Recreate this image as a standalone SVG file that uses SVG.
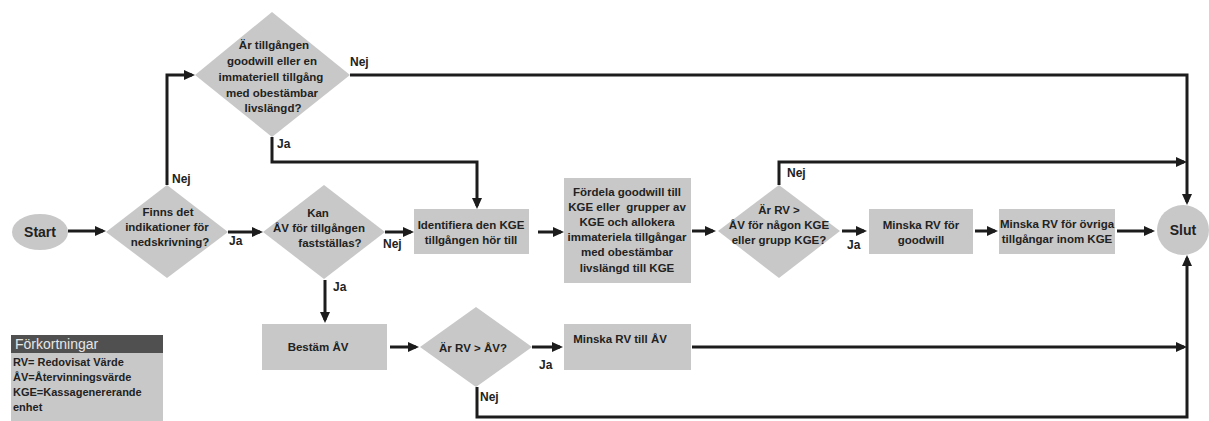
<svg xmlns="http://www.w3.org/2000/svg" width="1209" height="421" viewBox="0 0 1209 421">
<style>
.n{fill:#c8c8c8;stroke:none}
.t{font-family:"Liberation Sans",Arial,sans-serif;font-size:11.5px;font-weight:bold;fill:#222;text-anchor:middle}
.lb{font-family:"Liberation Sans",Arial,sans-serif;font-size:12px;font-weight:bold;fill:#222}
.c{fill:none;stroke:#1c1c1c;stroke-width:3}
.a{marker-end:url(#ah)}
.lg{font-family:"Liberation Sans",Arial,sans-serif;font-size:11px;font-weight:bold;fill:#222}
</style>
<defs>
<marker id="ah" markerWidth="12" markerHeight="10" refX="8" refY="5" orient="auto" markerUnits="userSpaceOnUse">
<path d="M0,0 L11,5 L0,10 z" fill="#1c1c1c"/>
</marker>
</defs>
<rect width="1209" height="421" fill="#fff"/>

<g id="connectors">
<line class="c a" x1="68" y1="231" x2="103" y2="231"/>
<polyline class="c a" points="167,185 167,75 192,75"/>
<polyline class="c a" points="350,75 1187,75 1187,202"/>
<polyline class="c a" points="272,137 272,162 477,162 477,206"/>
<line class="c a" x1="228" y1="232" x2="260" y2="232"/>
<line class="c a" x1="385" y1="232" x2="411" y2="232"/>
<line class="c a" x1="538" y1="232" x2="561" y2="232"/>
<line class="c a" x1="692" y1="231" x2="713" y2="231"/>
<polyline class="c a" points="779,185 779,162 1184,162"/>
<line class="c a" x1="842" y1="231" x2="864" y2="231"/>
<line class="c a" x1="975" y1="231" x2="995" y2="231"/>
<line class="c a" x1="1117" y1="231" x2="1152" y2="231"/>
<line class="c a" x1="325" y1="280" x2="325" y2="320"/>
<line class="c a" x1="390" y1="347" x2="416" y2="347"/>
<line class="c a" x1="532" y1="347" x2="560" y2="347"/>
<line class="c a" x1="692" y1="347" x2="1184" y2="347"/>
<polyline class="c a" points="477,387 477,417 1187,417 1187,258"/>
</g>

<g id="labels">
<text class="lb" x="172" y="183">Nej</text>
<text class="lb" x="350" y="66">Nej</text>
<text class="lb" x="277" y="148">Ja</text>
<text class="lb" x="229" y="245">Ja</text>
<text class="lb" x="383" y="248">Nej</text>
<text class="lb" x="333" y="291">Ja</text>
<text class="lb" x="787" y="177">Nej</text>
<text class="lb" x="847" y="249">Ja</text>
<text class="lb" x="539" y="369">Ja</text>
<text class="lb" x="480" y="401">Nej</text>
</g>

<g id="start">
<ellipse class="n" cx="40" cy="232" rx="28" ry="18"/>
<text class="t" x="40" y="237" style="font-size:14px">Start</text>
</g>

<g id="q-indikation">
<polygon class="n" points="167,185 228,232 167,278 106,232"/>
<text class="t" x="168" y="216">Finns det</text>
<text class="t" x="167" y="231">indikationer för</text>
<text class="t" x="170" y="246">nedskrivning?</text>
</g>

<g id="q-goodwill">
<polygon class="n" points="272,12 350,75 272,137 195,75"/>
<text class="t" x="274" y="49">Är tillgången</text>
<text class="t" x="272" y="65">goodwill eller en</text>
<text class="t" x="271" y="81">immateriell tillgång</text>
<text class="t" x="272" y="97">med obestämbar</text>
<text class="t" x="273" y="112">livslängd?</text>
</g>

<g id="q-kan">
<polygon class="n" points="324,185 385,232 324,279 263,232"/>
<text class="t" x="318" y="217">Kan</text>
<text class="t" x="319" y="232">ÅV för tillgången</text>
<text class="t" x="330" y="247">fastställas?</text>
</g>

<g id="identifiera">
<rect class="n" x="414" y="209" width="115" height="45"/>
<text class="t" x="471" y="229">Identifiera den KGE</text>
<text class="t" x="471" y="244">tillgången hör till</text>
</g>

<g id="fordela">
<rect class="n" x="564" y="178" width="127" height="105"/>
<text class="t" x="627" y="196">Fördela goodwill till</text>
<text class="t" x="627" y="211" style="white-space:pre">KGE eller  grupper av</text>
<text class="t" x="627" y="226">KGE och allokera</text>
<text class="t" x="627" y="241">immateriela tillgångar</text>
<text class="t" x="627" y="256">med obestämbar</text>
<text class="t" x="627" y="272">livslängd till KGE</text>
</g>

<g id="q-rv-kge">
<polygon class="n" points="779,185 840,231 779,278 718,231"/>
<text class="t" x="779" y="214">Är RV &gt;</text>
<text class="t" x="779" y="229">ÅV för någon KGE</text>
<text class="t" x="779" y="244">eller grupp KGE?</text>
</g>

<g id="minska-goodwill">
<rect class="n" x="869" y="209" width="104" height="45"/>
<text class="t" x="921" y="229">Minska RV för</text>
<text class="t" x="921" y="244">goodwill</text>
</g>

<g id="minska-ovriga">
<rect class="n" x="999" y="209" width="116" height="45"/>
<text class="t" x="1057" y="228">Minska RV för övriga</text>
<text class="t" x="1057" y="243">tillgångar inom KGE</text>
</g>

<g id="slut">
<ellipse class="n" cx="1183" cy="230" rx="26" ry="25"/>
<text class="t" x="1183" y="235" style="font-size:14px">Slut</text>
</g>

<g id="bestam">
<rect class="n" x="262" y="324" width="125" height="46"/>
<text class="t" x="318" y="351">Bestäm ÅV</text>
</g>

<g id="q-rv-av">
<polygon class="n" points="476,307 532,347 476,387 420,347"/>
<text class="t" x="473" y="352">Är RV &gt; ÅV?</text>
</g>

<g id="minska-av">
<rect class="n" x="564" y="324" width="127" height="46"/>
<text class="t" x="620" y="343">Minska RV till ÅV</text>
</g>

<g id="legend">
<rect x="11" y="335" width="152" height="18" fill="#505050"/>
<rect x="11" y="353" width="152" height="68" fill="#c8c8c8"/>
<text x="15" y="349" style="font-family:'Liberation Sans',Arial,sans-serif;font-size:14px;fill:#e6e6e6">Förkortningar</text>
<text class="lg" x="13" y="366">RV= Redovisat Värde</text>
<text class="lg" x="13" y="381">ÅV=Återvinningsvärde</text>
<text class="lg" x="13" y="396">KGE=Kassagenererande</text>
<text class="lg" x="13" y="411">enhet</text>
</g>
</svg>
